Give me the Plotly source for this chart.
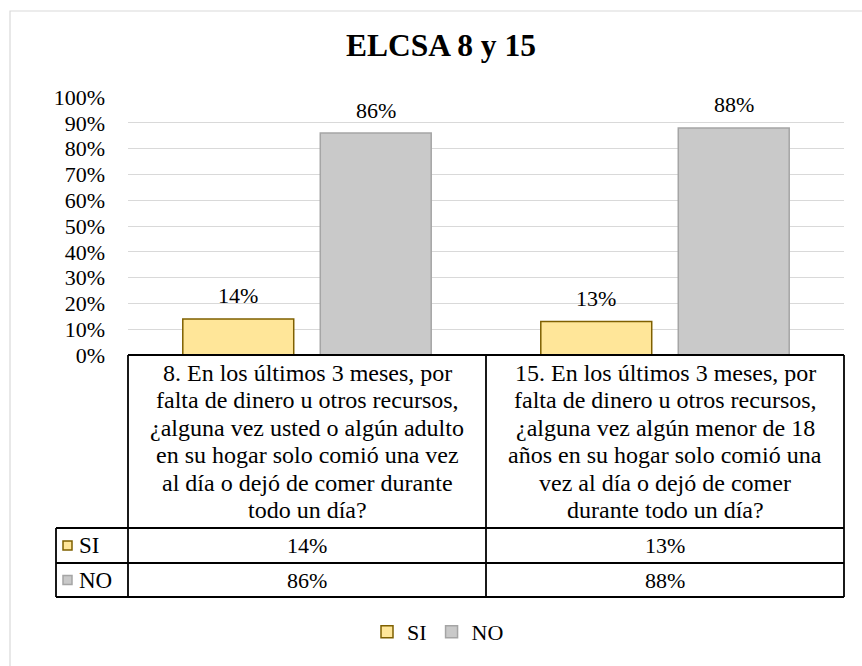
import plotly.graph_objects as go

# ---------------- data ----------------
categories = ["Q8", "Q15"]
category_label_lines = [
    ["8. En los últimos 3 meses, por",
     "falta de dinero u otros recursos,",
     "¿alguna vez usted o algún adulto",
     "en su hogar solo comió una vez",
     "al día o dejó de comer durante",
     "todo un día?"],
    ["15. En los últimos 3 meses, por",
     "falta de dinero u otros recursos,",
     "¿alguna vez algún menor de 18",
     "años en su hogar solo comió una",
     "vez al día o dejó de comer",
     "durante todo un día?"],
]
series_names = ["SI", "NO"]
si_values = [0.14, 0.13]
no_values = [0.86, 0.88]
tick_values = [0, 0.1, 0.2, 0.3, 0.4, 0.5, 0.6, 0.7, 0.8, 0.9, 1.0]
tick_labels = ["0%", "10%", "20%", "30%", "40%", "50%", "60%", "70%", "80%", "90%", "100%"]

# ---------------- style ----------------
FONT = "Liberation Serif, Times New Roman, serif"
W, H = 862, 666
L, R, T, B = 128, 18, 97, 311
PW, PH = W - L - R, H - T - B
fills = ["#FFE699", "#C9C9C9"]
edges = ["#7F6000", "#A5A5A5"]
BARGAP, BARGROUPGAP = 0.232, 0.193


def xp(px):
    return (px - L) / PW


def yp(py):
    return (H - B - py) / PH


fig = go.Figure()
series_values = [si_values, no_values]
for name, vals, fc, ec in zip(series_names, series_values, fills, edges):
    fig.add_trace(go.Bar(
        x=categories, y=vals, name=name,
        marker=dict(color=fc, line=dict(color=ec, width=1.5)),
        hovertemplate="%{y:.0%}<extra>" + name + "</extra>",
    ))

annotations = []
# data labels above bars (positioned through the x/y axes)
n_series = len(series_names)
slot = (1 - BARGAP) / n_series
for s, vals in enumerate(series_values):
    off = (s - (n_series - 1) / 2) * slot
    for i, v in enumerate(vals):
        annotations.append(dict(x=i + off, xref="x", y=v, yref="y", yshift=23,
                                text=f"{round(v * 100)}%", showarrow=False,
                                xanchor="center", yanchor="middle",
                                font=dict(family=FONT, size=22, color="black")))

shapes = []
# outer chart border
shapes.append(dict(type="rect", xref="paper", yref="paper",
                   x0=xp(10), x1=xp(W + 3), y0=yp(11), y1=yp(H + 3),
                   line=dict(color="#D9D9D9", width=1.2), layer="below"))

# data table grid, column boundaries from category positions
n = len(categories)
col_edges = [i / n for i in range(n + 1)]
key_left = xp(56)
y_top, y_hdr, y_si, y_no = yp(355), yp(528), yp(563), yp(597)
line_style = dict(color="black", width=1.8)
shapes.append(dict(type="line", xref="paper", yref="paper", x0=0, x1=1, y0=y_top, y1=y_top, line=line_style))
for yy in [y_hdr, y_si, y_no]:
    shapes.append(dict(type="line", xref="paper", yref="paper", x0=key_left, x1=1, y0=yy, y1=yy, line=line_style))
shapes.append(dict(type="line", xref="paper", yref="paper", x0=key_left, x1=key_left, y0=y_hdr, y1=y_no, line=line_style))
for xe in col_edges:
    shapes.append(dict(type="line", xref="paper", yref="paper", x0=xe, x1=xe, y0=y_top, y1=y_no, line=line_style))

# header cells (one annotation per text line)
first_line_px, line_step = 373, 27.4
for cat, lines in zip(categories, category_label_lines):
    for k, ln in enumerate(lines):
        annotations.append(dict(x=cat, xref="x", y=yp(first_line_px + k * line_step), yref="paper",
                                text=ln, showarrow=False, xanchor="center", yanchor="middle",
                                font=dict(family=FONT, size=24, color="black")))
# value rows
row_centers = [(y_hdr + y_si) / 2, (y_si + y_no) / 2]
for rc, name, vals, fc, ec in zip(row_centers, series_names, series_values, fills, edges):
    for cat, v in zip(categories, vals):
        annotations.append(dict(x=cat, xref="x", y=rc, yref="paper",
                                text=f"{round(v * 100)}%", showarrow=False,
                                xanchor="center", yanchor="middle",
                                font=dict(family=FONT, size=22, color="black")))
    # legend key in table
    sq = 9
    yc_px = H - B - rc * PH
    shapes.append(dict(type="rect", xref="paper", yref="paper",
                       x0=xp(63), x1=xp(63 + sq), y0=yp(yc_px - sq / 2), y1=yp(yc_px + sq / 2),
                       fillcolor=fc, line=dict(color=ec, width=1.5)))
    annotations.append(dict(x=xp(77), xref="paper", y=rc, yref="paper", text=name,
                            showarrow=False, xanchor="left", yanchor="middle",
                            font=dict(family=FONT, size=23, color="black")))

fig.update_layout(
    width=W, height=H,
    margin=dict(l=L, r=R, t=T, b=B, pad=0),
    paper_bgcolor="white", plot_bgcolor="white",
    title=dict(text="<b>ELCSA 8 y 15</b>", x=441 / W, xref="container", xanchor="center",
               y=1 - 45 / H, yref="container", yanchor="middle",
               font=dict(family=FONT, size=31.5, color="black")),
    barmode="group", bargap=BARGAP, bargroupgap=BARGROUPGAP,
    xaxis=dict(showticklabels=False, showgrid=False, zeroline=False, showline=False, ticks="",
               range=[-0.5, len(categories) - 0.5]),
    yaxis=dict(range=[0, 1], tickvals=tick_values, ticktext=tick_labels,
               showgrid=True, gridcolor="#D9D9D9", gridwidth=1, zeroline=False,
               showline=False, ticks="", ticklabelstandoff=22,
               tickfont=dict(family=FONT, size=22, color="black")),
    legend=dict(orientation="h", x=xp(438), xanchor="center", y=yp(632), yanchor="middle",
                font=dict(family=FONT, size=22, color="black"), itemwidth=30,
                bgcolor="rgba(0,0,0,0)"),
    shapes=shapes, annotations=annotations,
    font=dict(family=FONT, color="black"),
)

fig.write_html("out.html", config={"displayModeBar": False},
               post_script="document.body.style.margin='0';document.body.style.padding='0';")
